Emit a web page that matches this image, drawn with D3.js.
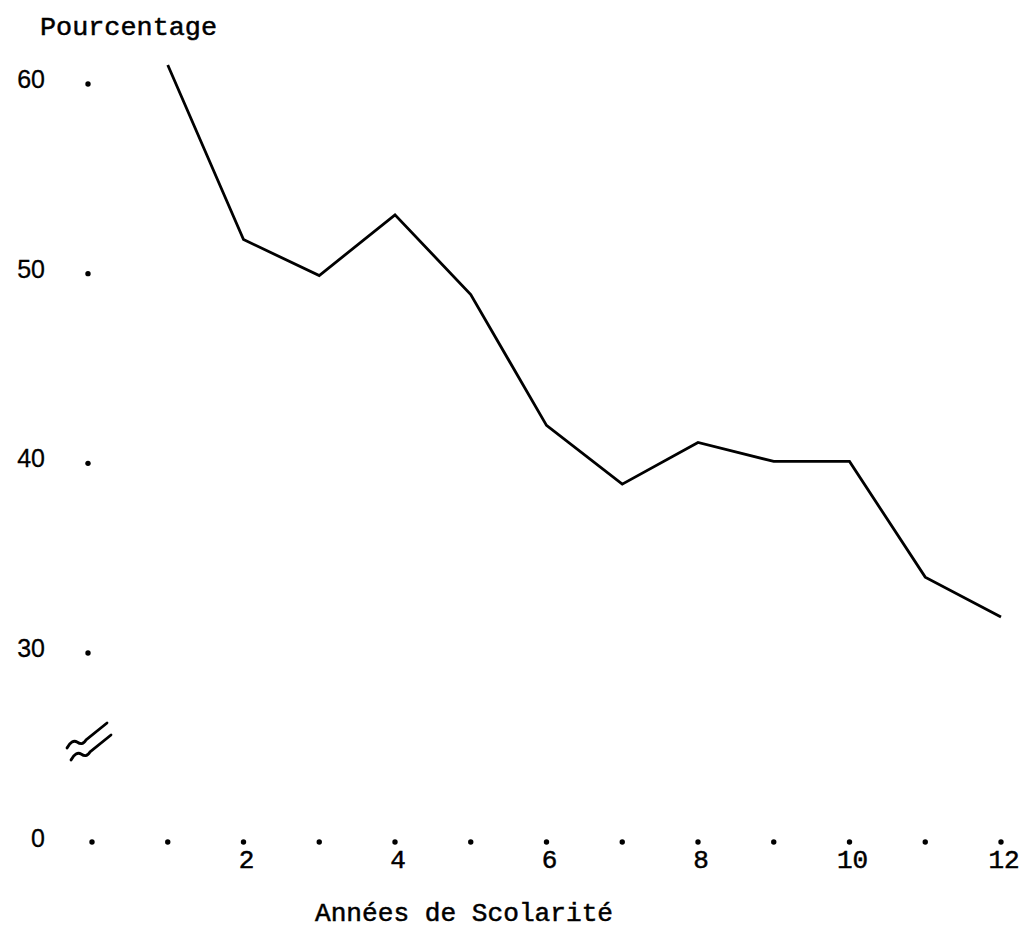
<!DOCTYPE html>
<html>
<head>
<meta charset="utf-8">
<script src="https://cdn.jsdelivr.net/npm/d3@7"></script>
<style>
  html, body { margin: 0; padding: 0; background: #fff; }
  svg { display: block; }
</style>
</head>
<body>
<svg id="chart" width="1026" height="930"></svg>
<script>
// ---- Data ----
const years = [1, 2, 3, 4, 5, 6, 7, 8, 9, 10, 11, 12];
const pourcentages = [61.0, 51.8, 49.9, 53.1, 48.9, 42.0, 38.9, 41.1, 40.1, 40.1, 34.0, 31.9];
const xDotYears = [0, 1, 2, 3, 4, 5, 6, 7, 8, 9, 10, 11, 12];
const xTickLabels = [2, 4, 6, 8, 10, 12];
const yTickValues = [60, 50, 40, 30, 0];
const yTitle = "Pourcentage";
const xTitle = "Années de Scolarité";

// ---- Scales ----
const svg = d3.select("#chart");
const x = d3.scaleLinear().domain([0, 12]).range([92, 1001]);
// broken axis: 0 placed below 30
const y = d3.scaleLinear().domain([0, 30, 60]).range([843, 653, 84]);

const mono = "'Liberation Mono', 'DejaVu Sans Mono', monospace";
const sans = "'Liberation Sans', Arial, sans-serif";

// ---- Y axis: labels + dots ----
svg.append("g").selectAll("text")
  .data(yTickValues).join("text")
  .attr("x", 45)
  .attr("y", d => y(d) + 4)
  .attr("text-anchor", "end")
  .style("font-family", sans)
  .style("font-size", "25px")
  .attr("fill", "#000")
  .attr("stroke", "#000")
  .attr("stroke-width", 0.3)
  .text(d => d);

svg.append("g").selectAll("circle")
  .data(yTickValues.filter(d => d !== 0)).join("circle")
  .attr("cx", x(0) - 4)
  .attr("cy", d => y(d))
  .attr("r", 2.7)
  .attr("fill", "#000");

// ---- X axis: dots + labels ----
svg.append("g").selectAll("circle")
  .data(xDotYears).join("circle")
  .attr("cx", d => x(d))
  .attr("cy", y(0) - 1)
  .attr("r", 2.7)
  .attr("fill", "#000");

svg.append("g").selectAll("text")
  .data(xTickLabels).join("text")
  .attr("x", d => x(d) + 3)
  .attr("y", 868)
  .attr("text-anchor", "middle")
  .style("font-family", mono)
  .style("font-size", "26px")
  .attr("fill", "#000")
  .attr("stroke", "#000")
  .attr("stroke-width", 0.5)
  .text(d => d);

// ---- Axis break symbol ----
const bx = x(0), by = (y(0) + y(30)) / 2;
const squiggle = (dx, dy) => {
  const p = d3.path();
  const sx = bx - 25 + dx, sy = by + 0 + dy;
  p.moveTo(sx, sy);
  p.bezierCurveTo(sx + 3, sy - 6, sx + 7, sy - 8, sx + 10, sy - 6);
  p.bezierCurveTo(sx + 13, sy - 4, sx + 16, sy - 3, sx + 19, sy - 8);
  p.lineTo(sx + 40, sy - 25);
  return p.toString();
};
svg.append("path").attr("d", squiggle(0, 0))
  .attr("fill", "none").attr("stroke", "#000").attr("stroke-width", 2.8).attr("stroke-linecap", "round");
svg.append("path").attr("d", squiggle(4, 12))
  .attr("fill", "none").attr("stroke", "#000").attr("stroke-width", 2.8).attr("stroke-linecap", "round");

// ---- Data line ----
const line = d3.line()
  .x((d, i) => x(years[i]))
  .y(d => y(d));

svg.append("path")
  .datum(pourcentages)
  .attr("d", line)
  .attr("fill", "none")
  .attr("stroke", "#000")
  .attr("stroke-width", 2.8)
  .attr("stroke-linejoin", "miter");

// ---- Titles ----
svg.append("text")
  .attr("x", 40).attr("y", 35)
  .style("font-family", mono)
  .style("font-size", "26px")
  .attr("textLength", 177)
  .attr("lengthAdjust", "spacingAndGlyphs")
  .attr("fill", "#000")
  .attr("stroke", "#000")
  .attr("stroke-width", 0.5)
  .text(yTitle);

svg.append("text")
  .attr("x", 315).attr("y", 921)
  .style("font-family", mono)
  .style("font-size", "25px")
  .attr("textLength", 298)
  .attr("lengthAdjust", "spacingAndGlyphs")
  .attr("fill", "#000")
  .attr("stroke", "#000")
  .attr("stroke-width", 0.5)
  .text(xTitle);
</script>
</body>
</html>
